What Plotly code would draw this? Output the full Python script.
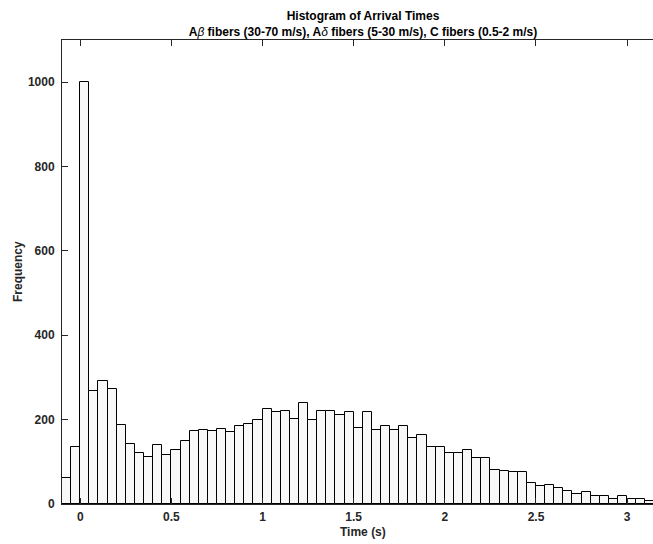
import numpy as np
import plotly.graph_objects as go

# Histogram counts per 0.05 s bin, first bin starting at -0.1 s
bin_start = -0.1
bin_width = 0.05
counts = [
    62, 135, 1001, 267, 292, 272, 187, 143, 121, 112,
    139, 117, 127, 150, 172, 176, 174, 178, 171, 186,
    189, 198, 225, 219, 221, 202, 239, 200, 221, 221,
    211, 219, 179, 217, 175, 184, 176, 185, 156, 164,
    134, 134, 120, 121, 127, 108, 108, 80, 79, 75,
    76, 49, 43, 45, 39, 30, 24, 29, 20, 20,
    13, 20, 11, 13, 8,
]

x_ticks = [0, 0.5, 1, 1.5, 2, 2.5, 3]
x_tick_labels = ["0", "0.5", "1", "1.5", "2", "2.5", "3"]
y_ticks = [0, 200, 400, 600, 800, 1000]
y_tick_labels = ["0", "200", "400", "600", "800", "1000"]

centers = bin_start + bin_width * (np.arange(len(counts)) + 0.5)

W, H = 653, 544
ML, MR, MT, MB = 62, 0, 40, 40
axis_color = "#262626"
font_family = "Liberation Sans, Arial, Helvetica, sans-serif"

fig = go.Figure()
fig.add_trace(go.Bar(
    x=centers,
    y=counts,
    width=bin_width,
    marker=dict(color="#f8f8f8", line=dict(color="black", width=1)),
    hoverinfo="x+y",
))

fig.update_layout(
    width=W,
    height=H,
    margin=dict(l=ML, r=MR, t=MT, b=MB, pad=0),
    paper_bgcolor="white",
    plot_bgcolor="white",
    bargap=0,
    showlegend=False,
    font=dict(family=font_family, size=12, color=axis_color, weight="bold"),
    title=dict(
        text=("Histogram of Arrival Times<br>"
              "A<span style=\"font-weight:normal\"><i>β</i></span> fibers (30-70 m/s), "
              "A<span style=\"font-weight:normal\"><i>δ</i></span> fibers (5-30 m/s), "
              "C fibers (0.5-2 m/s)"),
        x=363 / W,
        xref="container",
        xanchor="center",
        y=1 - 20 / H,
        yref="container",
        yanchor="top",
        font=dict(family=font_family, size=12, color="black", weight="bold"),
    ),
    xaxis=dict(
        range=[bin_start, bin_start + (W - ML - MR) / 182.3],
        tickmode="array",
        tickvals=x_ticks,
        ticktext=x_tick_labels,
        ticks="inside",
        ticklen=6,
        tickwidth=1,
        tickcolor=axis_color,
        showline=True,
        linecolor=axis_color,
        linewidth=1,
        mirror="ticks",
        showgrid=False,
        zeroline=False,
        tickfont=dict(family=font_family, size=12, color=axis_color, weight="bold"),
        ticklabelstandoff=2,
    ),
    yaxis=dict(
        range=[0, 1100],
        tickmode="array",
        tickvals=y_ticks,
        ticktext=y_tick_labels,
        ticks="inside",
        ticklen=6,
        tickwidth=1,
        tickcolor=axis_color,
        showline=True,
        linecolor=axis_color,
        linewidth=1,
        mirror=False,
        showgrid=False,
        zeroline=False,
        tickfont=dict(family=font_family, size=12, color=axis_color, weight="bold"),
        ticklabelstandoff=4,
    ),
)

# Axis titles
fig.add_annotation(
    text="Time (s)", xref="paper", yref="paper",
    x=(363 - ML) / (W - ML - MR), y=-28 / (H - MT - MB),
    xanchor="center", yanchor="middle", showarrow=False,
    font=dict(family=font_family, size=12, color=axis_color, weight="bold"),
)
fig.add_annotation(
    text="Frequency", xref="paper", yref="paper",
    x=-44 / (W - ML - MR), y=0.5,
    xanchor="center", yanchor="middle", textangle=-90, showarrow=False,
    font=dict(family=font_family, size=12, color=axis_color, weight="bold"),
)

fig.write_html("out.html")
